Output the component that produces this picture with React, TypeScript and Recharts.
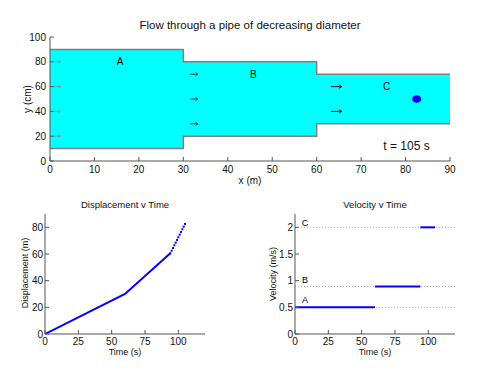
import React from 'react';
import { ComposedChart, Line, Area, XAxis, YAxis, ReferenceLine, Scatter } from 'recharts';

// ---- Top chart data ----
const pipeStarts = [0, 30, 60];
const pipeEnds = [30, 60, 90];
const pipeBottoms = [10, 20, 30];
const pipeTops = [90, 80, 70];
const sectionNames = ['A', 'B', 'C'];
const sectionLabelX = [15.75, 45.75, 75.75];
const sectionLabelY = [80, 70, 60];
const arrowsAX = [1, 1, 1, 1];
const arrowsAY = [80, 60, 40, 20];
const arrowsBX = [31.5, 31.5, 31.5];
const arrowsBY = [70, 50, 30];
const arrowsCX = [63.2, 63.2];
const arrowsCY = [60, 40];
const particleX = [82.5];
const particleY = [50];
const currentTime = 105;
const xTicksTop = [0, 10, 20, 30, 40, 50, 60, 70, 80, 90];
const yTicksTop = [0, 20, 40, 60, 80, 100];

// ---- Bottom charts data ----
const timeTicks = [0, 25, 50, 75, 100];
const dispTicks = [0, 20, 40, 60, 80];
const velTicks = [0, 0.5, 1, 1.5, 2];
const dispSolidTimes = [0, 60, 94];
const dispSolidValues = [0, 30, 60.5];
const dispDotTimes = [94, 95, 96, 97, 98, 99, 100, 101, 102, 103, 104, 105];
const dispDotValues = [60.5, 62.5, 64.5, 66.5, 68.5, 70.5, 72.5, 74.5, 76.5, 78.5, 80.5, 82.5];
const velSegStart = [0, 60, 94];
const velSegEnd = [60, 94, 105];
const velLevels = [0.5, 0.89, 2];
const velLabelX = [7.5, 7.5, 7.5];
const velLabelY = [0.64, 1.01, 2.09];

const FONT = '"Liberation Sans", Arial, Helvetica, sans-serif';
const AXIS = '#555';
const BLUE = '#0000ff';

const pts = (xs: number[], ys: number[]) => xs.map((x, i) => ({ x, y: ys[i] }));

const pipePolygon = pipeStarts.flatMap((s, i) => [
  { x: s, band: [pipeBottoms[i], pipeTops[i]] },
  { x: pipeEnds[i], band: [pipeBottoms[i], pipeTops[i]] },
]);
const topOutline = pipeStarts.flatMap((s, i) => [{ x: s, y: pipeTops[i] }, { x: pipeEnds[i], y: pipeTops[i] }]);
const bottomOutline = pipeStarts.flatMap((s, i) => [{ x: s, y: pipeBottoms[i] }, { x: pipeEnds[i], y: pipeBottoms[i] }]);
const sectionLabels = sectionNames.map((n, i) => ({ x: sectionLabelX[i], y: sectionLabelY[i], label: n }));
const velLabels = sectionNames.map((n, i) => ({ x: velLabelX[i], y: velLabelY[i], label: n }));

const makeArrow = (len: number, head: number, color: string, w: number) => (p: any) => (
  <g>
    <line x1={p.cx} y1={p.cy} x2={p.cx + len} y2={p.cy} stroke={color} strokeWidth={w} />
    <path d={`M${p.cx + len - head},${p.cy - head * 0.6} L${p.cx + len},${p.cy} L${p.cx + len - head},${p.cy + head * 0.6}`} fill="none" stroke={color} strokeWidth={w} />
  </g>
);

const textShape = (size: number) => (p: any) => (
  <text x={p.cx} y={p.cy} textAnchor="middle" dominantBaseline="central" fontSize={size} fontFamily={FONT} fill="#000">
    {p.payload.label}
  </text>
);

const tickStyle = { fontSize: 10, fill: '#111', fontFamily: FONT };

function frameAxes(xDomain: number[], xTicks: number[], yDomain: number[], yTicks: number[], yWidth: number, xHeight: number, yTickMargin: number, xTickMargin: number) {
  return [
    <XAxis key="xb" xAxisId={0} type="number" dataKey="x" domain={xDomain} ticks={xTicks} allowDataOverflow
      height={xHeight} stroke={AXIS} tickSize={-4} tickMargin={xTickMargin} tick={tickStyle} interval={0} />,
    <XAxis key="xt" xAxisId="top" orientation="top" type="number" dataKey="x" domain={xDomain} ticks={xTicks} allowDataOverflow
      height={0} stroke={AXIS} tickSize={-4} tick={false} interval={0} />,
    <YAxis key="yl" yAxisId={0} type="number" dataKey="y" domain={yDomain} ticks={yTicks} allowDataOverflow
      width={yWidth} stroke={AXIS} tickSize={-4} tickMargin={yTickMargin} tick={tickStyle} interval={0} />,
    <YAxis key="yr" yAxisId="right" orientation="right" type="number" dataKey="y" domain={yDomain} ticks={yTicks} allowDataOverflow
      width={0} stroke={AXIS} tickSize={-4} tick={false} interval={0} />,
  ];
}

const label = (text: string, style: React.CSSProperties) => (
  <div style={{ position: 'absolute', fontFamily: FONT, color: '#111', whiteSpace: 'nowrap', ...style }}>{text}</div>
);

export default function App() {
  return (
    <div style={{ position: 'absolute', left: 0, top: 0, width: 500, height: 375, background: '#fff', overflow: 'hidden' }}>
      {/* Top chart */}
      <div style={{ position: 'absolute', left: 0, top: 0 }}>
        <ComposedChart width={500} height={200} data={pipePolygon} margin={{ top: 37, right: 50, left: 0, bottom: 0 }}>
          {frameAxes([0, 90], xTicksTop, [0, 100], yTicksTop, 50, 39, 8, 9)}
          <Area dataKey="band" type="linear" fill="#00ffff" fillOpacity={1} stroke="none" isAnimationActive={false} />
          <Line data={topOutline} dataKey="y" stroke="#808080" strokeWidth={1.5} dot={false} isAnimationActive={false} />
          <Line data={bottomOutline} dataKey="y" stroke="#808080" strokeWidth={1.5} dot={false} isAnimationActive={false} />
          <Scatter data={pts(arrowsAX, arrowsAY)} shape={makeArrow(6, 2, '#8a8a8a', 0.8)} isAnimationActive={false} />
          <Scatter data={pts(arrowsBX, arrowsBY)} shape={makeArrow(8, 2.5, '#333', 0.9)} isAnimationActive={false} />
          <Scatter data={pts(arrowsCX, arrowsCY)} shape={makeArrow(11, 3, '#111', 1)} isAnimationActive={false} />
          <Scatter data={sectionLabels} shape={textShape(10)} isAnimationActive={false} />
          <Scatter data={pts(particleX, particleY)} isAnimationActive={false}
            shape={(p: any) => <ellipse cx={p.cx} cy={p.cy} rx={4.5} ry={3.8} fill={BLUE} />} />
          <Scatter data={[{ x: 75, y: 12, label: `t = ${currentTime} s` }]} isAnimationActive={false}
            shape={(p: any) => (
              <text x={p.cx} y={p.cy} dominantBaseline="central" fontSize={12} fontFamily={FONT} fill="#111">{p.payload.label}</text>
            )} />
        </ComposedChart>
      </div>
      {label('Flow through a pipe of decreasing diameter', { left: 0, width: 500, textAlign: 'center', top: 19, fontSize: 11.5 })}
      {label('x (m)', { left: 0, width: 500, textAlign: 'center', top: 175, fontSize: 10 })}
      {label('y (cm)', { left: 27, top: 99, fontSize: 10, transform: 'translate(-50%, -50%) rotate(-90deg)' })}

      {/* Bottom-left chart */}
      <div style={{ position: 'absolute', left: 0, top: 190 }}>
        <ComposedChart width={250} height={185} margin={{ top: 24, right: 45, left: 0, bottom: 0 }}>
          {frameAxes([0, 120], timeTicks, [0, 90], dispTicks, 45, 41, 6, 8)}
          <Line data={pts(dispSolidTimes, dispSolidValues)} dataKey="y" stroke={BLUE} strokeWidth={2} dot={false} isAnimationActive={false} />
          <Scatter data={pts(dispDotTimes, dispDotValues)} isAnimationActive={false}
            shape={(p: any) => <rect x={p.cx - 1} y={p.cy - 1} width={2} height={2} fill={BLUE} />} />
        </ComposedChart>
      </div>
      {label('Displacement v Time', { left: 45, width: 160, textAlign: 'center', top: 199, fontSize: 9.5 })}
      {label('Time (s)', { left: 45, width: 160, textAlign: 'center', top: 347, fontSize: 9 })}
      {label('Displacement (m)', { left: 25, top: 273, fontSize: 9, transform: 'translate(-50%, -50%) rotate(-90deg)' })}

      {/* Bottom-right chart */}
      <div style={{ position: 'absolute', left: 250, top: 190 }}>
        <ComposedChart width={250} height={185} margin={{ top: 24, right: 45, left: 0, bottom: 0 }}>
          {frameAxes([0, 120], timeTicks, [0, 2.25], velTicks, 45, 41, 6, 8)}
          {velLevels.map((v, i) => (
            <ReferenceLine key={i} y={v} stroke="#b0b0b0" strokeDasharray="1 2" strokeWidth={1} />
          ))}
          {velSegStart.map((s, i) => (
            <Line key={i} data={pts([s, velSegEnd[i]], [velLevels[i], velLevels[i]])} dataKey="y" stroke={BLUE} strokeWidth={2} dot={false} isAnimationActive={false} />
          ))}
          <Scatter data={velLabels} shape={textShape(9)} isAnimationActive={false} />
        </ComposedChart>
      </div>
      {label('Velocity v Time', { left: 295, width: 160, textAlign: 'center', top: 199, fontSize: 9.5 })}
      {label('Time (s)', { left: 295, width: 160, textAlign: 'center', top: 347, fontSize: 9 })}
      {label('Velocity (m/s)', { left: 273, top: 274, fontSize: 9, transform: 'translate(-50%, -50%) rotate(-90deg)' })}
    </div>
  );
}
